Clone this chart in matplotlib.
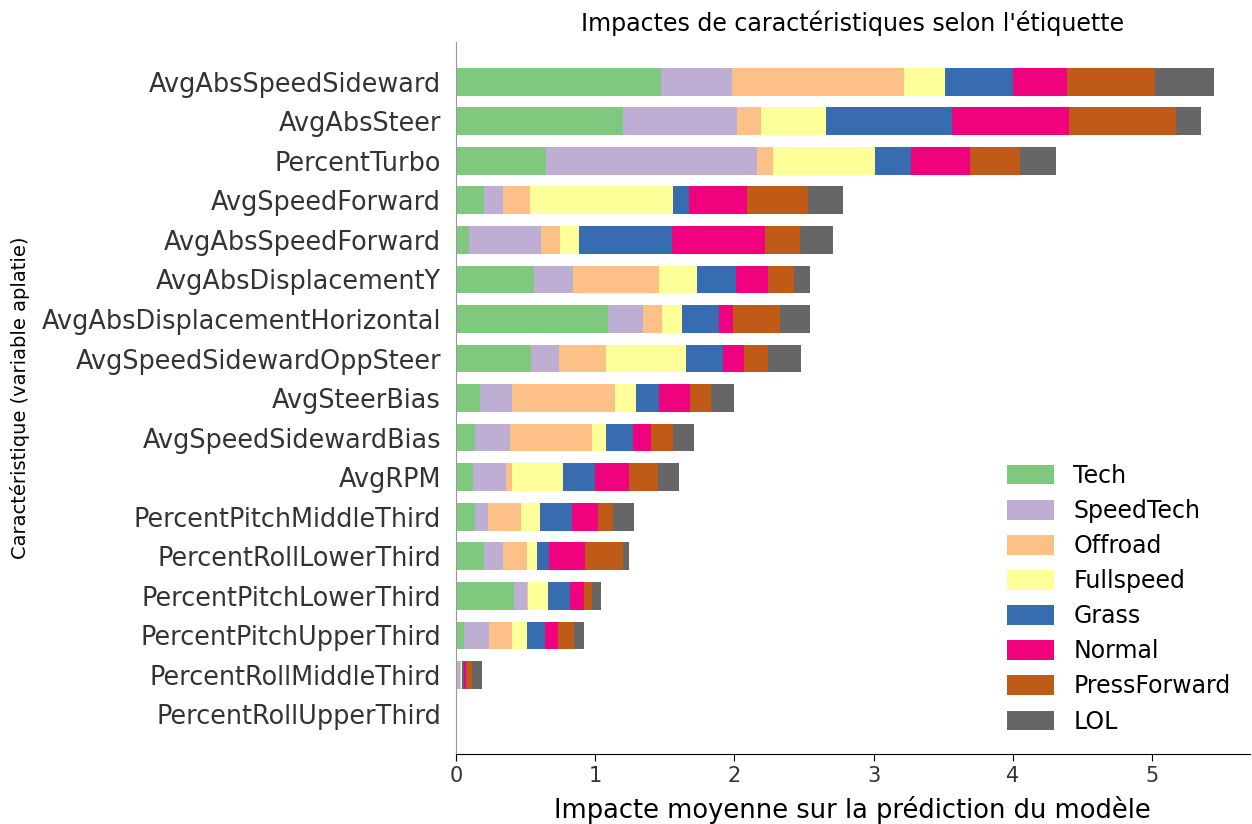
import matplotlib
matplotlib.use("Agg")
import matplotlib.pyplot as plt
import numpy as np

features = ["AvgAbsSpeedSideward", "AvgAbsSteer", "PercentTurbo", "AvgSpeedForward",
            "AvgAbsSpeedForward", "AvgAbsDisplacementY", "AvgAbsDisplacementHorizontal",
            "AvgSpeedSidewardOppSteer", "AvgSteerBias", "AvgSpeedSidewardBias", "AvgRPM",
            "PercentPitchMiddleThird", "PercentRollLowerThird", "PercentPitchLowerThird",
            "PercentPitchUpperThird", "PercentRollMiddleThird", "PercentRollUpperThird"]

classes = ["Tech", "SpeedTech", "Offroad", "Fullspeed", "Grass", "Normal", "PressForward", "LOL"]

tech         = [1.47, 1.20, 0.65, 0.20, 0.09, 0.56, 1.09, 0.54, 0.17, 0.14, 0.12, 0.14, 0.20, 0.42, 0.06, 0.01, 0.001]
speedtech    = [0.51, 0.82, 1.51, 0.14, 0.52, 0.28, 0.25, 0.20, 0.23, 0.25, 0.24, 0.09, 0.14, 0.09, 0.18, 0.02, 0.001]
offroad      = [1.24, 0.17, 0.12, 0.19, 0.14, 0.62, 0.14, 0.34, 0.74, 0.59, 0.04, 0.24, 0.17, 0.01, 0.16, 0.005, 0.001]
fullspeed    = [0.29, 0.47, 0.73, 1.03, 0.13, 0.27, 0.14, 0.57, 0.15, 0.10, 0.37, 0.13, 0.07, 0.14, 0.11, 0.01, 0.001]
grass        = [0.49, 0.90, 0.26, 0.11, 0.67, 0.28, 0.27, 0.27, 0.17, 0.19, 0.23, 0.23, 0.09, 0.16, 0.13, 0.01, 0.001]
normal       = [0.39, 0.84, 0.42, 0.42, 0.67, 0.23, 0.10, 0.15, 0.22, 0.13, 0.24, 0.19, 0.26, 0.10, 0.09, 0.02, 0.001]
pressforward = [0.63, 0.77, 0.36, 0.44, 0.25, 0.19, 0.34, 0.17, 0.15, 0.16, 0.21, 0.11, 0.27, 0.06, 0.12, 0.04, 0.001]
lol          = [0.42, 0.18, 0.26, 0.25, 0.24, 0.11, 0.21, 0.24, 0.17, 0.15, 0.15, 0.15, 0.04, 0.06, 0.07, 0.07, 0.001]

series = [tech, speedtech, offroad, fullspeed, grass, normal, pressforward, lol]
colors = ["#7fc97f", "#beaed4", "#fdc086", "#ffff99", "#386cb0", "#f0027f", "#bf5b17", "#666666"]

fig = plt.figure(figsize=(12.52, 8.24), dpi=100)
ax = fig.add_axes([0.3642, 0.0849, 0.634, 0.864])

n = len(features)
ypos = np.arange(n)[::-1]
left = np.zeros(n)
for name, vals, c in zip(classes, series, colors):
    v = np.array(vals)
    ax.barh(ypos, v, 0.7, left=left, color=c, label=name, align="center")
    left += v

ax.set_yticks(ypos)
ax.set_yticklabels(features, fontsize=18.4, color="#333333")
ax.set_ylim(-1, n)
ax.set_xlim(0, 5.70)

ax.spines["right"].set_visible(False)
ax.spines["top"].set_visible(False)
ax.spines["left"].set_color("#999999")
ax.tick_params(axis="y", length=0, pad=10.8)
ax.tick_params(axis="x", labelsize=15, length=5, color="black")
for lbl in ax.get_xticklabels():
    lbl.set_color("#333333")

ax.set_xlabel("Impacte moyenne sur la prédiction du modèle", fontsize=18.5, labelpad=7)
ax.set_ylabel("Caractéristique (variable aplatie)", fontsize=14)
ax.yaxis.set_label_coords(-0.537, 0.5)
ax.set_title("Impactes de caractéristiques selon l'étiquette", fontsize=17.1, pad=8)

ax.legend(frameon=False, fontsize=17, loc="lower right", bbox_to_anchor=(1.0025, -0.001),
          handlelength=2.0, handleheight=0.9, labelspacing=0.47, handletextpad=0.8)

fig.savefig("out.png", dpi=100)
